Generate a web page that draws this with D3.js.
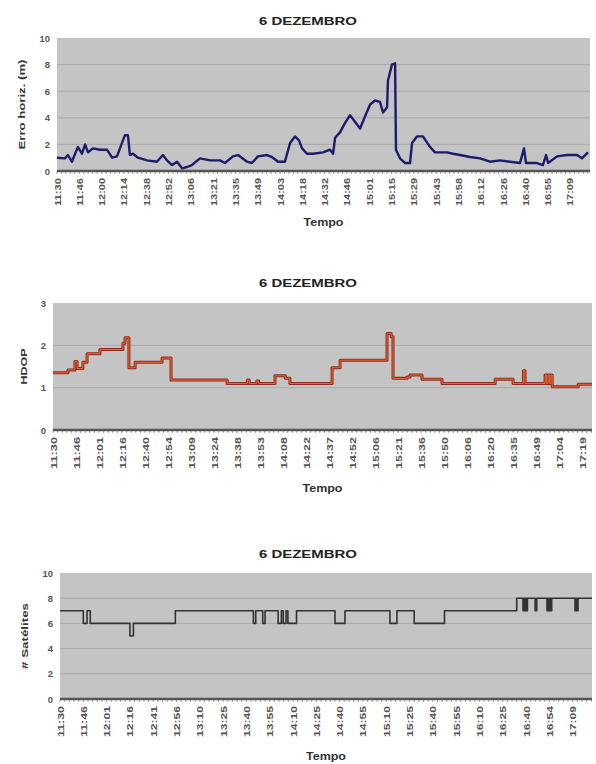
<!DOCTYPE html>
<html>
<head>
<meta charset="utf-8">
<script src="https://cdn.jsdelivr.net/npm/d3@7"></script>
<style>
  body { margin: 0; background: #fff; }
  text { font-family: "Liberation Sans", Arial, sans-serif; }
</style>
</head>
<body>
<svg id="chart" width="596" height="764"></svg>
<script>
// samples are indexed in "ticks/10": one time label every 10 samples
const title = "6 DEZEMBRO";
const xTitle = "Tempo";

const labelsErro = ["11:30","11:46","12:00","12:14","12:38","12:52","13:06","13:21","13:35","13:49","14:03","14:18",
  "14:32","14:46","15:01","15:15","15:29","15:43","15:58","16:12","16:26","16:40","16:55","17:09"];
const labelsHdop = ["11:30","11:46","12:01","12:16","12:40","12:54","13:09","13:24","13:38","13:53","14:08","14:22",
  "14:37","14:52","15:06","15:21","15:36","15:50","16:06","16:20","16:35","16:49","17:04","17:19"];
const labelsSat = ["11:30","11:46","12:01","12:16","12:41","12:56","13:10","13:25","13:40","13:55","14:10","14:25",
  "14:40","14:55","15:10","15:25","15:40","15:55","16:10","16:25","16:40","16:54","17:09"];

// erro horizontal (m)
const erro = [
  [0,1.0],[3.6,0.95],[4.9,1.2],[6.7,0.7],[8.1,1.3],[9.4,1.8],[11.2,1.3],[12.6,2.0],[13.9,1.4],[16.1,1.7],
  [19.3,1.6],[22.4,1.6],[24.7,1.0],[26.9,1.1],[29.1,2.1],[30.5,2.7],[31.8,2.7],[32.7,1.2],[34.1,1.3],[36.3,1.0],
  [40.4,0.8],[44.8,0.7],[47.5,1.2],[49.3,0.8],[51.6,0.45],[53.8,0.7],[56.1,0.2],[58.3,0.3],[60.5,0.45],[64.1,0.95],
  [68.6,0.8],[73.1,0.8],[75.3,0.6],[78.9,1.1],[81.2,1.2],[85.2,0.7],[87.4,0.6],[90.1,1.1],[94.2,1.2],[96.4,1.05],
  [99.1,0.7],[102.2,0.7],[104.5,2.1],[106.7,2.6],[108.5,2.3],[109.9,1.7],[112.1,1.3],[114.8,1.3],[119.3,1.4],
  [122.4,1.6],[123.8,1.3],[124.7,2.5],[126.9,2.9],[129.1,3.6],[131.4,4.2],[133.6,3.7],[135.9,3.2],[138.1,4.1],
  [140.4,5.0],[142.6,5.3],[144.8,5.2],[146.2,4.4],[148.0,4.8],[148.4,6.8],[150.2,8.0],[151.6,8.1],[152.0,1.6],
  [153.8,0.95],[156.1,0.6],[158.3,0.6],[159.2,2.1],[161.4,2.6],[164.1,2.6],[167.3,1.8],[169.5,1.4],[174.9,1.4],
  [177.6,1.3],[180.7,1.2],[185.2,1.05],[189.7,0.95],[194.2,0.7],[198.7,0.8],[203.1,0.7],[207.6,0.6],[209.4,1.7],
  [210.3,0.6],[215.2,0.6],[217.9,0.45],[219.3,1.2],[220.2,0.6],[224.2,1.1],[228.7,1.2],[233.2,1.2],[235.4,0.95],
  [238.1,1.4]
];

// HDOP (step)
const hdop = [
  [0,1.35],[6.5,1.42],[9.5,1.62],[10.5,1.45],[13,1.6],[14.8,1.8],[20.4,1.9],[30.4,2.05],[31.3,2.18],[33,1.47],
  [35.7,1.6],[47.4,1.7],[51.3,1.18],[75.7,1.1],[84.5,1.18],[85.3,1.1],[88.6,1.16],[89.4,1.1],[96.5,1.28],
  [101,1.22],[103,1.1],[121.3,1.47],[124.8,1.65],[145.2,2.28],[147,2.2],[147.8,1.22],[153.9,1.25],[155.2,1.3],
  [160.4,1.2],[169.1,1.1],[192.2,1.2],[200,1.1],[204.5,1.4],[205.2,1.1],[213.9,1.3],[214.5,1.1],[215.2,1.3],
  [215.9,1.1],[216.5,1.3],[217,1.02],[228.3,1.08],[234.3,1.08]
];

// numero de satelites (step)
const sat = [
  [0,7],[10,6],[11.6,7],[13,6],[30,5],[31.5,6],[49.5,7],[83,6],[84,7],[87,6],[88,7],[93.6,6],[95,7],[95.8,6],
  [97,7],[97.8,6],[101.5,7],[118,6],[122.3,7],[141.6,6],[144.6,7],[152,6],[165,7],[196,8],
  [198.7,7],[199.1,8],[199.5,7],[199.9,8],[200.3,7],[200.6,8],
  [203.9,7],[204.6,8],
  [209,7],[209.4,8],[209.8,7],[210.2,8],[210.6,7],[211,8],
  [221,7],[221.4,8],[221.8,7],[222.3,8],[228.3,8]
];

const svg = d3.select("#chart");

function drawChart(o) {
  const g = svg.append("g");
  const x = d3.scaleLinear().domain([0, o.xMax]).range([o.left, o.right]);
  const y = d3.scaleLinear().domain([0, o.yMax]).range([o.bottom, o.top]);

  g.append("rect")
    .attr("x", o.left).attr("y", o.top)
    .attr("width", o.right - o.left).attr("height", o.bottom - o.top)
    .attr("fill", "#c4c4c4");

  // grid
  g.selectAll(".grid").data(o.yTicks.filter(d => d > 0 && d < o.yMax))
    .enter().append("line")
    .attr("x1", o.left).attr("x2", o.right)
    .attr("y1", d => y(d)).attr("y2", d => y(d))
    .attr("stroke", "#a9a9a9").attr("stroke-width", 1);

  // y axis labels
  g.selectAll(".ylab").data(o.yTicks)
    .enter().append("text")
    .attr("x", o.left - 7).attr("y", d => y(d) + 3.5)
    .attr("text-anchor", "end")
    .attr("font-size", 9.5).attr("font-weight", "bold").attr("fill", "#555")
    .text(d => d);

  // line
  const line = d3.line()
    .x(d => x(d[0])).y(d => y(d[1]))
    .curve(o.step ? d3.curveStepAfter : d3.curveLinear);
  g.append("path").datum(o.data)
    .attr("d", line)
    .attr("fill", "none")
    .attr("stroke", o.color).attr("stroke-width", o.width)
    .attr("stroke-linejoin", "round");
  if (o.inner) {
    g.append("path").datum(o.data)
      .attr("d", line)
      .attr("fill", "none")
      .attr("stroke", o.inner).attr("stroke-width", o.width / 3);
  }

  // bottom axis with dense minor ticks
  g.append("line")
    .attr("x1", o.left).attr("x2", o.right)
    .attr("y1", o.bottom).attr("y2", o.bottom)
    .attr("stroke", "#555").attr("stroke-width", 2.5);
  g.selectAll(".minor").data(d3.range(0, o.xMax, 2))
    .enter().append("line")
    .attr("x1", d => x(d)).attr("x2", d => x(d))
    .attr("y1", o.bottom).attr("y2", o.bottom + 3)
    .attr("stroke", "#666").attr("stroke-width", 0.6);

  // x labels, rotated
  g.selectAll(".xlab").data(o.labels)
    .enter().append("text")
    .attr("transform", (d, i) => `translate(${x(i * 10) + 3.5},${o.bottom + 7}) rotate(-90)`)
    .attr("text-anchor", "end")
    .attr("font-size", 9.5).attr("font-weight", "bold").attr("fill", "#555")
    .attr("textLength", o.labelLen).attr("lengthAdjust", "spacingAndGlyphs")
    .text(d => d);

  g.append("text")
    .attr("x", 308).attr("y", o.titleY)
    .attr("text-anchor", "middle")
    .attr("font-size", 11).attr("font-weight", "bold").attr("fill", "#222")
    .attr("textLength", 98).attr("lengthAdjust", "spacingAndGlyphs")
    .text(title);

  g.append("text")
    .attr("x", (o.left + o.right) / 2).attr("y", o.xTitleY)
    .attr("text-anchor", "middle")
    .attr("font-size", 10.5).attr("font-weight", "bold").attr("fill", "#333")
    .attr("textLength", 40).attr("lengthAdjust", "spacingAndGlyphs")
    .text(xTitle);

  g.append("text")
    .attr("transform", `translate(${o.yTitleX},${(o.top + o.bottom) / 2}) rotate(-90)`)
    .attr("text-anchor", "middle")
    .attr("font-size", 9.5).attr("font-weight", "bold").attr("fill", "#333")
    .attr("textLength", o.yTitleLen).attr("lengthAdjust", "spacingAndGlyphs")
    .text(o.yTitle);
}

drawChart({
  data: erro, labels: labelsErro, xMax: 239, yMax: 10, yTicks: [0, 2, 4, 6, 8, 10],
  left: 57, right: 590, top: 38, bottom: 171, titleY: 25, xTitleY: 226, yTitleX: 25,
  yTitle: "Erro horiz. (m)", yTitleLen: 90, labelLen: 28, color: "#1c1c6a", width: 2.4, step: false
});

drawChart({
  data: hdop, labels: labelsHdop, xMax: 234.3, yMax: 3, yTicks: [0, 1, 2, 3],
  left: 53, right: 592, top: 303, bottom: 430, titleY: 287, xTitleY: 492, yTitleX: 27,
  yTitle: "HDOP", yTitleLen: 36, labelLen: 32, color: "#8e2a1a", inner: "#f06a3a", width: 3, step: true
});

drawChart({
  data: sat, labels: labelsSat, xMax: 228.3, yMax: 10, yTicks: [0, 2, 4, 6, 8, 10],
  left: 60, right: 592, top: 573, bottom: 699, titleY: 558, xTitleY: 760, yTitleX: 28,
  yTitle: "# Satélites", yTitleLen: 66, labelLen: 31, color: "#333", width: 1.6, step: true
});
</script>
</body>
</html>
